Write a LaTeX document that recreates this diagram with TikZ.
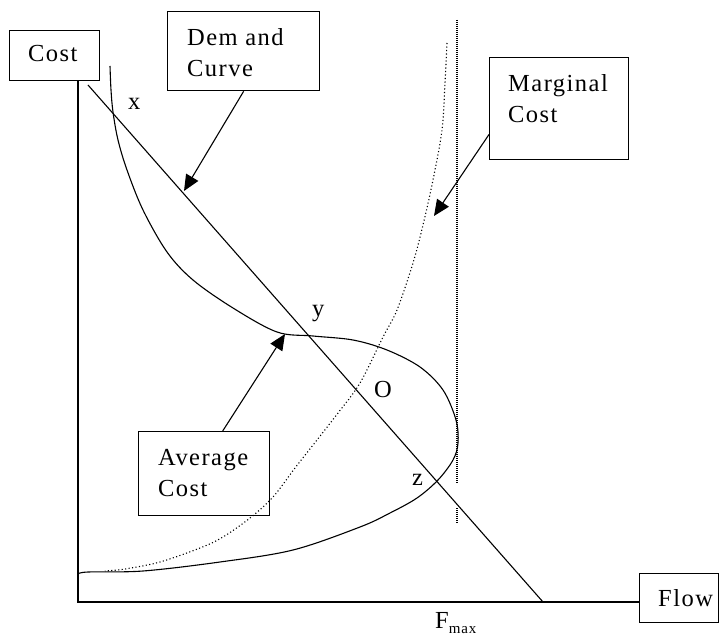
\documentclass[tikz,border=0pt]{standalone}
\usepackage{fontspec}
\setmainfont{Liberation Serif}[LetterSpace=6]
\usetikzlibrary{arrows.meta,calc}
\begin{document}
\begin{tikzpicture}[x=1pt,y=-1pt,
  box/.style={draw, line width=1.3pt, inner sep=0pt, anchor=north west},
  lbl/.style={inner sep=0pt, anchor=base west, align=left, font=\fontsize{24.5}{31}\selectfont},
  curve/.style={line width=1.1pt},
  axis/.style={line width=1.5pt},
  dots/.style={line width=1.1pt, dash pattern=on 1.1pt off 2.4pt},
  vdots/.style={line width=1.1pt, dash pattern=on 1pt off 1pt},
  pointer/.style={line width=1.1pt, -{Triangle[length=16pt,width=14pt]}}
]
\useasboundingbox (0,0) rectangle (726,636);

% boxes
\node[box, minimum width=90pt, minimum height=50pt] (cost) at (9,30) {};
\node[box, minimum width=152pt, minimum height=79pt] (dem) at (167,11) {};
\node[box, minimum width=139pt, minimum height=102pt] (mc) at (489,57) {};
\node[box, minimum width=131pt, minimum height=84pt] (avg) at (138,431) {};
\node[box, minimum width=79pt, minimum height=49pt] (flow) at (639,573) {};

% box texts (base anchor = baseline of last line)
\node[lbl] (costT) at (28,62) {Cost};
\node[lbl] (demT) at (187,77) {Dem and\\Curve};
\node[lbl] (mcT) at (508,123) {Marginal\\Cost};
\node[lbl] (avgT) at (158,496) {Average\\Cost};
\node[lbl] (flowT) at (658,606) {Flow};

% axes
\coordinate (origin) at (78,602);
\draw[axis] (cost.south -| origin) -- (origin) -- (origin -| flow.west);

% capacity line (dotted vertical)
\draw[vdots] (457,20) -- (457,483);
\draw[vdots] (457,508) -- (457,523);

% demand curve
\coordinate (d1) at (88,85);
\coordinate (d2) at (543,602);
\draw[curve] (d1) -- (d2);

% average cost curve
\draw[curve] plot[smooth, tension=0.55] coordinates {
  (110,66) (111,90) (113,112) (118,140) (127,170) (143,210) (167,252)
  (193,280) (233,308) (277,332) (313,336) (353,340) (387,350) (420,367)
  (443,390) (456,420) (458,443) (453,460) (438,480) (417,498) (390,513)
  (360,527) (293,550) (220,562) (143,571) (88,572) (78,574)};

% marginal cost curve
\draw[dots] plot[smooth, tension=0.55] coordinates {
  (447,43) (445,83) (442,130) (433,180) (423,225) (413,263) (397,310)
  (383,337) (360,383) (338,413) (317,440) (295,468) (273,497) (250,518)
  (223,537) (200,548) (160,562) (125,569) (105,571)};

% pointers
\coordinate (demTip) at (184,191);
\draw[pointer] (dem.south) -- (demTip);
\coordinate (mcTip) at (434,216);
\draw[pointer] ($(mc.south west)!0.25!(mc.north west)$) -- (mcTip);
\coordinate (avgTip) at (285,334);
\draw[pointer] ($(avg.north west)!0.64!(avg.north east)$) -- (avgTip);

% point labels
\node[lbl] (px) at (128,110) {x};
\node[lbl] (py) at (312,317) {y};
\node[lbl] (pO) at (374,398) {O};
\node[lbl] (pz) at (412,485) {z};
\node[lbl] (fmax) at (435,628) {F\raisebox{-5pt}{\fontsize{15}{15}\selectfont max}};
\end{tikzpicture}
\end{document}
